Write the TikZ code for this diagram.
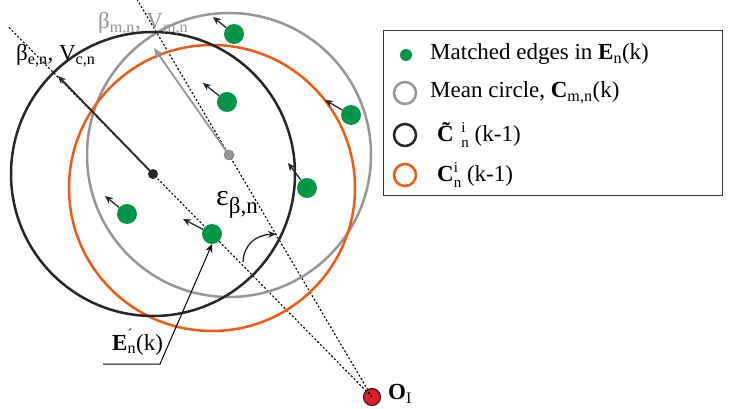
\documentclass[tikz,border=0pt]{standalone}
\usepackage{fontspec}
\setmainfont{Liberation Serif}
\usetikzlibrary{arrows.meta,calc}
\definecolor{gr}{RGB}{0,150,70}
\definecolor{og}{RGB}{240,90,20}
\definecolor{gy}{RGB}{150,150,150}
\definecolor{rd}{RGB}{225,30,40}
\begin{document}
\begin{tikzpicture}[x=1pt,y=-1pt,
  dot/.style={circle,fill=gr,inner sep=0,minimum size=20pt},
  mv/.style={-{Stealth[length=8pt,width=7pt]},line width=1.3pt,black!85},
  dl/.style={dash pattern=on 2pt off 2pt,line width=1.1pt},
  lab/.style={font=\fontsize{23}{23}\selectfont,inner sep=0,anchor=west}]
\useasboundingbox (0,0) rectangle (748,409);
\coordinate (cb) at (153,174);
\coordinate (cg) at (229,155);
\node[circle,draw=black!85,fill=rd,line width=1.2pt,inner sep=0,minimum size=17pt] (O) at (372,397) {};
\node[lab] at (388,394) {\textbf{O}\textsubscript{I}};
\draw[dl] (O.center) -- ($(O.center)!1.66!(cb)$) coordinate (d1);
\draw[dl] (O.center) -- ($(O.center)!1.64!(cg)$) coordinate (d2);
\draw[line width=2.5pt,gy] (cg) circle[radius=142];
\draw[line width=2.5pt,og] (212,188) circle[radius=143];
\draw[line width=2.5pt,black!85] (cb) circle[radius=142];
\node[circle,fill=black!85,inner sep=0,minimum size=10pt] (bc) at (cb) {};
\node[circle,fill=gy,draw=black!60,inner sep=0,minimum size=10pt] (gc) at (cg) {};
\coordinate (be) at (58,76);
\coordinate (ge) at (154,48);
\draw[mv,line width=1.8pt] (bc.center) -- (be);
\draw[-{Stealth[length=11pt,width=9pt]},line width=1.8pt,gy] (gc.center) -- (ge);
\foreach \n/\x/\y/\ax/\ay in {a/234/34/213/17, b/227/102/203/83, c/351/115/325/100, d/307/188/288/163, e/127/214/105/196, f/212/234/183/219}{
  \node[dot] (\n) at (\x,\y) {};
  \coordinate (t\n) at (\ax,\ay);
  \draw[mv] (\n) -- (t\n);
}
\node[lab] at (16,56) {β\textsubscript{e,n}, V\textsubscript{c,n}};
\node[lab,text=gy] at (98,24) {β\textsubscript{m,n}, V\textsubscript{m,n}};
\node[lab] at (216,205) {\fontsize{30}{30}\selectfont ε\textsubscript{\fontsize{23}{23}\selectfont β,n}};
\coordinate (e1) at (243,262);
\coordinate (e2) at (276,234);
\draw[mv] (e1) .. controls (244,244) and (256,235) .. (e2);
\coordinate (k1) at (103,364);
\coordinate (k2) at (160,364);
\draw[-{Stealth[length=8pt,width=7pt]},line width=1pt] (k1) -- (k2) -- (f.south);
\node[lab] at (112,342) {\textbf{E}\rlap{\raisebox{11pt}{\fontsize{15}{15}\selectfont ´}}\textsubscript{n}(k)};
% legend
\node[draw=black!80,line width=1pt,minimum width=339pt,minimum height=165pt,inner sep=0] (lg) at (552.5,113.5) {};
\node[circle,fill=gr,inner sep=0,minimum size=12pt] (l1) at (406,55) {};
\node[circle,draw=gy,line width=2.5pt,inner sep=0,minimum size=22pt] (l2) at (405,93) {};
\node[circle,draw=black!85,line width=2.5pt,inner sep=0,minimum size=22pt] (l3) at (405,135) {};
\node[circle,draw=og,line width=2.5pt,inner sep=0,minimum size=22pt] (l4) at (405,175) {};
\node[lab] at (430,54) {Matched edges in \textbf{E}\textsubscript{n}(k)};
\node[lab] at (430,93) {Mean circle, \textbf{C}\textsubscript{m,n}(k)};
\node[lab] at (437,135) {\textbf{\~{C}}\rlap{\raisebox{9pt}{\fontsize{15}{15}\selectfont i}}\raisebox{-6pt}{\fontsize{15}{15}\selectfont n}\ (k-1)};
\node[lab] at (437,175) {\textbf{C}\rlap{\raisebox{9pt}{\fontsize{15}{15}\selectfont i}}\raisebox{-6pt}{\fontsize{15}{15}\selectfont n}\ (k-1)};
\end{tikzpicture}
\end{document}
